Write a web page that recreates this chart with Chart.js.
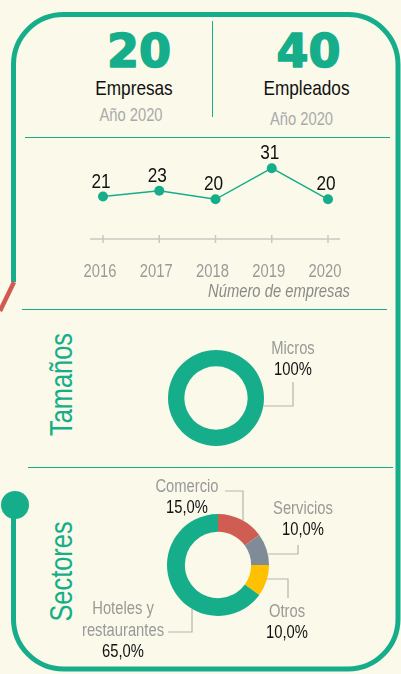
<!DOCTYPE html>
<html>
<head>
<meta charset="utf-8">
<script src="https://cdn.jsdelivr.net/npm/chart.js@4.4.1/dist/chart.umd.min.js"></script>
<style>
  body { margin: 0; width: 401px; height: 674px; overflow: hidden; position: relative; background: #faf9ea; }
  svg, canvas { position: absolute; }
  .narrow { font-family: 'Liberation Sans', Arial, sans-serif; }
</style>
</head>
<body>

<svg width="401" height="674" style="left:0;top:0">
  <!-- frame -->
  <path d="M13.5 282 L13.5 64 A50 50 0 0 1 63.5 14.5 L348 14.5 A50 50 0 0 1 398 64.5 L398 619 A50 50 0 0 1 348 669 L63.5 669 A50 50 0 0 1 13.5 619 L13.5 505"
        fill="none" stroke="#16ae8a" stroke-width="5"/>
  <circle cx="15" cy="505" r="14" fill="#16ae8a"/>
  <line x1="14" y1="282" x2="0" y2="311" stroke="#d15b53" stroke-width="4.5"/>

  <!-- separators -->
  <line x1="212.5" y1="21" x2="212.5" y2="117" stroke="#16ae8a" stroke-width="1"/>
  <line x1="25" y1="137.5" x2="390" y2="137.5" stroke="#16ae8a" stroke-width="1.2"/>
  <line x1="22" y1="309.5" x2="387" y2="309.5" stroke="#16ae8a" stroke-width="1.2"/>
  <line x1="28" y1="467.5" x2="393" y2="467.5" stroke="#16ae8a" stroke-width="1.2"/>

  <!-- header -->
  <g font-family="DejaVu Sans" font-weight="bold" font-size="46" fill="#16ae8a" stroke="#16ae8a" stroke-width="1.6" stroke-linejoin="round" text-anchor="middle">
    <text x="139" y="67">20</text>
    <text x="308.5" y="67">40</text>
  </g>
  <g class="narrow" text-anchor="middle">
    <text transform="translate(134 95) scale(0.82 1)" font-size="21" fill="#111">Empresas</text>
    <text transform="translate(306.5 95) scale(0.82 1)" font-size="21" fill="#111">Empleados</text>
    <text transform="translate(131 121) scale(0.82 1)" font-size="18" fill="#aaa">Año 2020</text>
    <text transform="translate(301.5 125) scale(0.82 1)" font-size="18" fill="#aaa">Año 2020</text>
  </g>

  <!-- section titles -->
  <g class="narrow" font-size="31" fill="#16ae8a" text-anchor="middle">
    <text transform="translate(72 384.5) rotate(-90) scale(0.82 1)">Tamaños</text>
    <text transform="translate(72 571.5) rotate(-90) scale(0.82 1)">Sectores</text>
  </g>
</svg>

<canvas id="lineChart" width="401" height="170" style="left:0;top:140px"></canvas>
<canvas id="sizeChart" width="200" height="130" style="left:150px;top:330px"></canvas>
<canvas id="sectorChart" width="361" height="200" style="left:40px;top:470px"></canvas>

<script>
const years = ['2016', '2017', '2018', '2019', '2020'];
const empresas = [21, 23, 20, 31, 20];

const tamanoLabels = ['Micros'];
const tamanoValues = [100];

const sectorLabels = ['Comercio', 'Servicios', 'Otros', ['Hoteles y', 'restaurantes']];
const sectorValues = [15, 10, 10, 65];

const teal = '#16ae8a';
const sectorColors = ['#cf5d52', '#7f8c98', '#ffc000', teal];
const fontName = "'Liberation Sans', Arial, sans-serif";

Chart.defaults.animation = false;
Chart.defaults.responsive = false;
Chart.defaults.devicePixelRatio = 1;
Chart.defaults.plugins.legend.display = false;
Chart.defaults.plugins.tooltip.enabled = false;

// condensed text: the original uses a narrow face
function narrowText(ctx, text, x, y) {
  ctx.save();
  ctx.translate(x, y);
  ctx.scale(0.82, 1);
  ctx.fillText(text, 0, 0);
  ctx.restore();
}

// axis line with crosses, year labels, value labels and caption
const lineExtras = {
  id: 'lineExtras',
  afterDatasetsDraw(chart) {
    const ctx = chart.ctx;
    const x = chart.scales.x;
    const area = chart.chartArea;
    const yAxis = area.bottom;
    ctx.save();
    ctx.strokeStyle = '#c9c9c2';
    ctx.lineWidth = 1.5;
    ctx.beginPath();
    ctx.moveTo(x.getPixelForValue(0) - 13, yAxis);
    ctx.lineTo(x.getPixelForValue(years.length - 1) + 12, yAxis);
    years.forEach((yr, i) => {
      const px = x.getPixelForValue(i);
      ctx.moveTo(px, yAxis - 4);
      ctx.lineTo(px, yAxis + 4);
    });
    ctx.stroke();

    ctx.textAlign = 'center';
    ctx.textBaseline = 'alphabetic';
    ctx.font = '18px ' + fontName;
    ctx.fillStyle = '#9a9a9a';
    years.forEach((yr, i) => {
      narrowText(ctx, yr, x.getPixelForValue(i) - 3, yAxis + 38);
    });

    ctx.font = '21px ' + fontName;
    ctx.fillStyle = '#111';
    chart.getDatasetMeta(0).data.forEach((pt, i) => {
      narrowText(ctx, empresas[i], pt.x - 2, pt.y - 9);
    });

    ctx.font = 'italic 18px ' + fontName;
    ctx.fillStyle = '#8a8a8a';
    ctx.textAlign = 'right';
    narrowText(ctx, 'Número de empresas', 350, yAxis + 58);
    ctx.restore();
  }
};

new Chart(document.getElementById('lineChart'), {
  type: 'line',
  data: {
    labels: years,
    datasets: [{
      data: empresas,
      borderColor: teal,
      borderWidth: 1.5,
      pointRadius: 5,
      pointBackgroundColor: teal,
      pointBorderWidth: 0,
      tension: 0,
      clip: false
    }]
  },
  options: {
    layout: { padding: { left: 103, right: 73, top: 14, bottom: 71 } },
    scales: {
      x: { display: false },
      y: { display: false, min: 6, max: 36 }
    }
  },
  plugins: [lineExtras]
});

// leader lines and labels round a doughnut
const ringLabels = {
  id: 'ringLabels',
  afterDraw(chart, args, opts) {
    const ctx = chart.ctx;
    const values = chart.data.datasets[0].data;
    const labels = chart.data.labels;
    ctx.save();
    chart.getDatasetMeta(0).data.forEach((arc, i) => {
      const L = opts.layout[i];
      const cx = arc.x, cy = arc.y, r = arc.outerRadius;
      const ex = cx + L.elbow[0], ey = cy + L.elbow[1];
      let rx, ry;
      if (L.dir == 'v') {
        rx = ex;
        ry = cy + Math.sign(L.elbow[1]) * Math.sqrt(r * r - L.elbow[0] * L.elbow[0]);
      } else {
        ry = ey;
        rx = cx + Math.sign(L.elbow[0]) * Math.sqrt(r * r - L.elbow[1] * L.elbow[1]);
      }
      ctx.strokeStyle = '#b5b5b0';
      ctx.lineWidth = 1.2;
      ctx.beginPath();
      ctx.moveTo(cx + L.start[0], cy + L.start[1]);
      ctx.lineTo(ex, ey);
      ctx.lineTo(rx, ry);
      ctx.stroke();

      ctx.textAlign = 'center';
      ctx.textBaseline = 'alphabetic';
      ctx.font = '18px ' + fontName;
      ctx.fillStyle = '#999';
      const lines = [].concat(labels[i]);
      lines.forEach((t, k) => {
        narrowText(ctx, t, cx + L.name[0], cy + L.name[1] + k * 22);
      });
      ctx.fillStyle = '#111';
      const pct = opts.decimals ? values[i].toFixed(1).replace('.', ',') : values[i];
      narrowText(ctx, pct + '%', cx + L.pct[0], cy + L.pct[1]);
    });
    ctx.restore();
  }
};

new Chart(document.getElementById('sizeChart'), {
  type: 'doughnut',
  data: {
    labels: tamanoLabels,
    datasets: [{ data: tamanoValues, backgroundColor: [teal], borderWidth: 0 }]
  },
  options: {
    cutout: '66%',
    layout: { padding: { left: 18, right: 86, top: 20, bottom: 14 } },
    plugins: {
      ringLabels: {
        decimals: false,
        layout: [
          { name: [77, -44], pct: [77, -23], start: [77, -16], elbow: [77, 8], dir: 'h' }
        ]
      }
    }
  },
  plugins: [ringLabels]
});

new Chart(document.getElementById('sectorChart'), {
  type: 'doughnut',
  data: {
    labels: sectorLabels,
    datasets: [{ data: sectorValues, backgroundColor: sectorColors, borderWidth: 0 }]
  },
  options: {
    cutout: '65%',
    layout: { padding: { left: 127, right: 132, top: 44, bottom: 54 } },
    plugins: {
      ringLabels: {
        decimals: true,
        layout: [
          { name: [-31, -73], pct: [-31, -52], start: [7, -74], elbow: [25, -74], dir: 'v' },
          { name: [85, -51], pct: [85, -30], start: [80, -20], elbow: [80, -11], dir: 'h' },
          { name: [69, 52], pct: [69, 73], start: [70, 33], elbow: [70, 14], dir: 'h' },
          { name: [-95, 49], pct: [-95, 92], start: [-50, 67], elbow: [-26, 67], dir: 'v' }
        ]
      }
    }
  },
  plugins: [ringLabels]
});
</script>
</body>
</html>
